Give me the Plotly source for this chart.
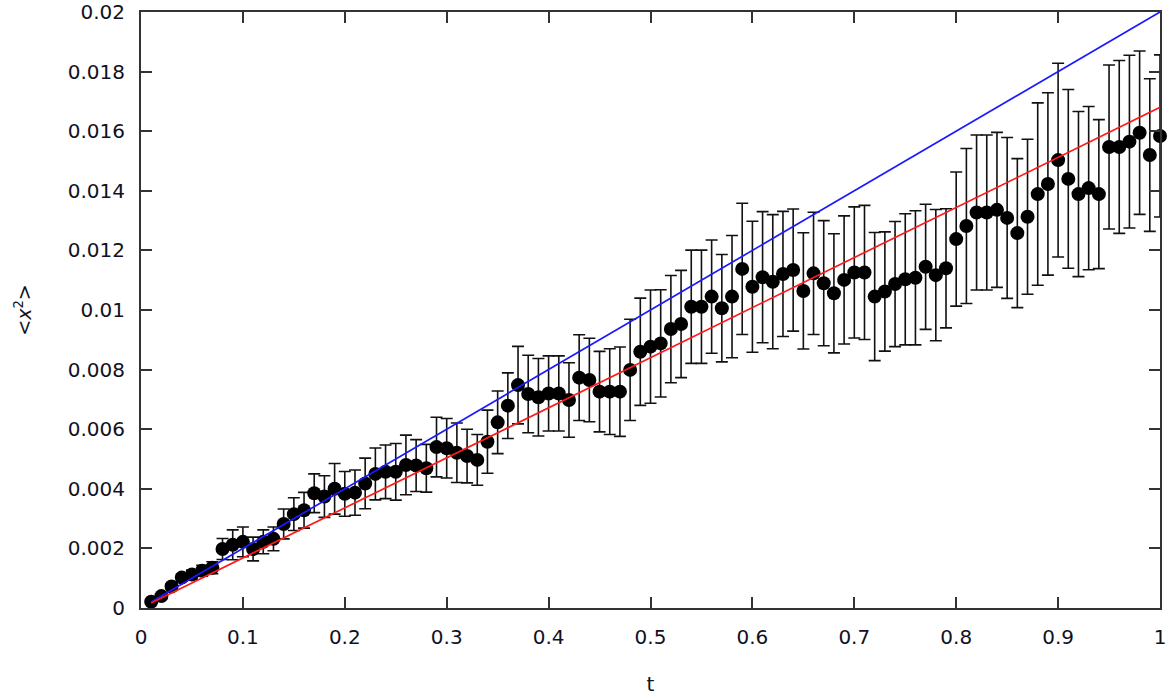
import plotly.graph_objects as go

# time values
t = [round(0.01 * i, 2) for i in range(1, 101)]

# <x^2> values (x 1e-3)
msd_milli = [
    0.21, 0.40, 0.72, 1.02, 1.12, 1.25, 1.35, 1.98, 2.12, 2.22,
    1.98, 2.22, 2.32, 2.82, 3.15, 3.28, 3.85, 3.74, 4.00, 3.83,
    3.87, 4.18, 4.50, 4.57, 4.57, 4.80, 4.78, 4.69, 5.40, 5.36,
    5.21, 5.10, 4.97, 5.58, 6.23, 6.79, 7.48, 7.18, 7.07, 7.20,
    7.20, 6.98, 7.73, 7.65, 7.26, 7.26, 7.26, 7.99, 8.60, 8.77,
    8.88, 9.36, 9.53, 10.11, 10.11, 10.45, 10.06, 10.45, 11.38, 10.78,
    11.10, 10.95, 11.21, 11.34, 10.64, 11.23, 10.90, 10.56, 11.01, 11.26,
    11.26, 10.45, 10.62, 10.87, 11.03, 11.08, 11.45, 11.17, 11.40, 12.38,
    12.82, 13.27, 13.27, 13.36, 13.09, 12.58, 13.13, 13.89, 14.23, 15.03,
    14.40, 13.89, 14.09, 13.89, 15.47, 15.47, 15.65, 15.95, 15.20, 15.84,
]

# error bar half-widths (x 1e-3)
err_milli = [
    0.05, 0.08, 0.10, 0.12, 0.15, 0.18, 0.20, 0.35, 0.50, 0.50,
    0.40, 0.40, 0.40, 0.50, 0.55, 0.60, 0.65, 0.70, 0.85, 0.75,
    0.76, 0.85, 0.87, 0.90, 0.95, 1.00, 0.87, 0.80, 1.00, 1.00,
    1.00, 0.90, 0.85, 1.06, 1.05, 1.10, 1.30, 1.30, 1.30, 1.26,
    1.26, 1.25, 1.44, 1.40, 1.35, 1.44, 1.50, 1.70, 1.80, 1.90,
    1.80, 1.80, 1.80, 1.90, 1.90, 1.90, 1.80, 2.05, 2.20, 2.20,
    2.20, 2.25, 2.10, 2.05, 1.95, 2.05, 2.10, 2.00, 2.15, 2.20,
    2.25, 2.15, 2.00, 2.10, 2.20, 2.25, 2.10, 2.20, 2.00, 2.25,
    2.60, 2.60, 2.60, 2.60, 2.70, 2.50, 2.60, 3.06, 3.06, 3.25,
    3.00, 2.77, 2.74, 2.50, 2.75, 2.90, 2.90, 2.74, 2.56, 2.72,
]

msd = [v * 1e-3 for v in msd_milli]
err = [v * 1e-3 for v in err_milli]

# straight reference lines (endpoints)
line_t = [0.01, 1.0]
blue_y = [0.0002, 0.02]
red_y = [0.000168, 0.0168]

x_tickvals = [0, 0.1, 0.2, 0.3, 0.4, 0.5, 0.6, 0.7, 0.8, 0.9, 1.0]
x_ticktext = ["0", "0.1", "0.2", "0.3", "0.4", "0.5", "0.6", "0.7", "0.8", "0.9", "1"]
y_tickvals = [0, 0.002, 0.004, 0.006, 0.008, 0.01, 0.012, 0.014, 0.016, 0.018, 0.02]
y_ticktext = ["0", "0.002", "0.004", "0.006", "0.008", "0.01", "0.012", "0.014", "0.016", "0.018", "0.02"]

fig = go.Figure()
fig.add_trace(go.Scatter(
    x=t, y=msd, mode="markers",
    marker=dict(color="black", size=14),
    error_y=dict(type="data", array=err, visible=True, color="#111111", thickness=1.6, width=6),
    showlegend=False, cliponaxis=False,
))
fig.add_trace(go.Scatter(x=line_t, y=blue_y, mode="lines",
                         line=dict(color="#1a1aff", width=1.7), showlegend=False))
fig.add_trace(go.Scatter(x=line_t, y=red_y, mode="lines",
                         line=dict(color="#ff1a1a", width=1.7), showlegend=False))

font_family = "DejaVu Sans, Verdana, sans-serif"
axis_common = dict(
    showline=True, linecolor="#333333", linewidth=2, mirror="ticks",
    ticks="inside", ticklen=11, tickwidth=1.5, tickcolor="#333333",
    showgrid=False, zeroline=False, automargin=False,
    tickfont=dict(family=font_family, size=20, color="#111122"),
)

fig.update_layout(
    width=1170, height=696,
    margin=dict(l=141, r=10, t=12, b=88),
    paper_bgcolor="white", plot_bgcolor="white",
    xaxis=dict(range=[0, 1], tickvals=x_tickvals, ticktext=x_ticktext,
               title=dict(text="t", font=dict(family=font_family, size=20, color="#111122"), standoff=30),
               ticklabelstandoff=10, **axis_common),
    yaxis=dict(range=[0, 0.02], tickvals=y_tickvals, ticktext=y_ticktext,
               title=dict(text="&lt;<i>x</i><sup>2</sup>&gt;", font=dict(family=font_family, size=19, color="#111122"), standoff=31),
               ticklabelstandoff=10, **axis_common),
)

# remove the default 8px page margin so the figure fills the window exactly
fig.write_html("out.html", config={"displayModeBar": False},
               post_script="document.body.style.margin='0';")
